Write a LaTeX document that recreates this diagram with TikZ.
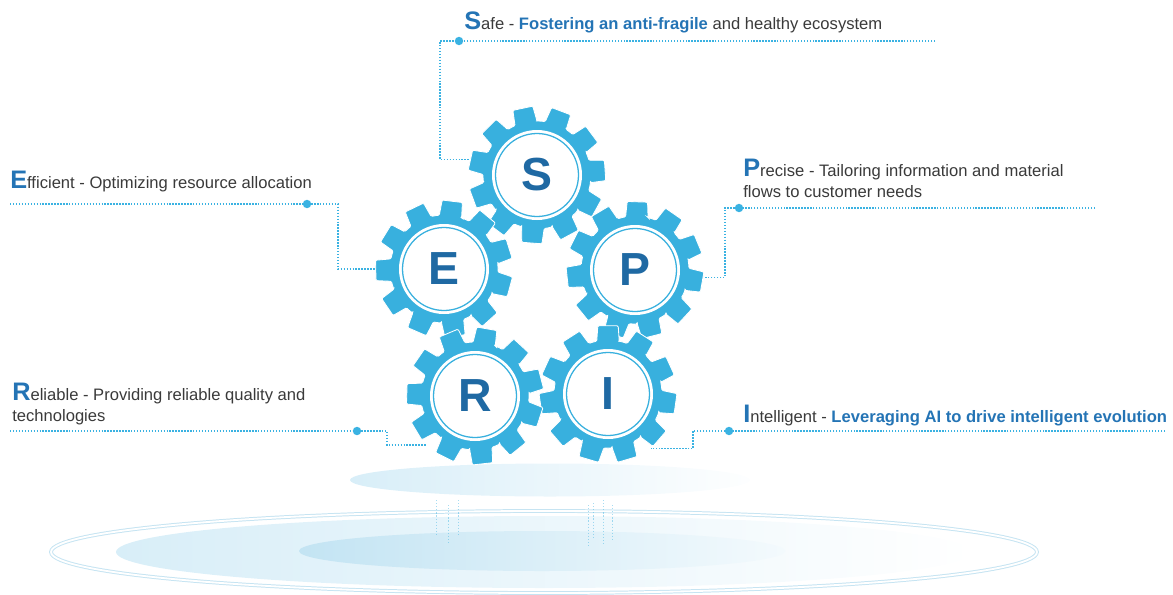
\documentclass[tikz,border=0pt]{standalone}
\usepackage{fontspec}
\setmainfont{Liberation Sans}
\usetikzlibrary{positioning, calc, backgrounds}
\definecolor{gearblue}{HTML}{38B0DE}
\definecolor{lettblue}{HTML}{1F69A3}
\definecolor{leadblue}{HTML}{3AB2E2}
\definecolor{accentblue}{HTML}{2474B5}
\definecolor{textgrey}{HTML}{3A3A3A}
\definecolor{platblue}{HTML}{D8EEF8}
\definecolor{innerblue}{HTML}{C3E4F3}
\definecolor{ringblue}{HTML}{C6E4F2}
\tikzset{
  leader/.style={draw=leadblue, line width=1pt, dash pattern=on 1pt off 1.1pt},
  dotmark/.style={circle, fill=leadblue, inner sep=0pt, minimum size=6pt},
  gearhub/.style={circle, inner sep=0pt, minimum size=3.45cm},
  letter/.style={font=\fontsize{33}{33}\selectfont\bfseries, text=lettblue, inner sep=0pt},
  caption/.style={anchor=base west, align=left, inner sep=0pt, text=textgrey,
                  font=\fontsize{11.8}{14.6}\selectfont},
  pics/gear/.style={code={
    % eleven trapezoid teeth round one body, outlined in white
    \fill[gearblue, draw=white, line width=0.6pt, rounded corners=0.8pt] (#1-12:54)
      \foreach \t [evaluate=\t as \a using #1+\t*32.727] in {0,...,10}{
        -- (\a-12:54) -- (\a-8.5:69) -- (\a+8.5:69) -- (\a+12:54)
        arc[start angle=\a+12, end angle=\a+20.727, radius=54]
      } -- cycle;
    \fill[white] (0,0) circle[radius=45];
    \draw[gearblue, line width=0.9pt] (0,0) circle[radius=41.5];
  }},
}
\newcommand{\initial}[1]{{\fontsize{18}{18}\selectfont\bfseries\color{accentblue}#1}}
\newcommand{\hilite}[1]{{\bfseries\color{accentblue}#1}}

\begin{document}
\begin{tikzpicture}[x=0.025cm, y=0.025cm]
  \useasboundingbox (0,0) rectangle (1173,-594);

  % platform under the gears
  \draw[ringblue, line width=0.7pt, double=white, double distance=1.3pt] (544,-552) ellipse[x radius=493, y radius=41];
  \shade[left color=platblue, right color=white] (544,-552) ellipse[x radius=428, y radius=36];
  \shade[left color=innerblue, right color=platblue!30] (542,-551) ellipse[x radius=243, y radius=20];
  \shade[left color=platblue, right color=white!96!platblue] (550,-480) ellipse[x radius=200, y radius=16.5];
  \foreach \x/\a/\b in {436/500/535, 448/505/545, 458/500/535, 588/505/548, 593/503/540, 603/500/545, 612/505/540}
    \draw[leadblue, opacity=0.45, line width=0.5pt, dash pattern=on 0.8pt off 1.4pt] (\x,-\a) -- (\x,-\b);

  % the five gears
  \foreach \n/\x/\y in {S/537/175, E/444/269, P/635/270, R/475/396, I/608/394}
    \node[gearhub] (g\n) at (\x,-\y) {};
  \foreach \n/\r in {S/102, P/88, E/83, I/90, R/80}{
    \pic at (g\n) {gear=\r};
    \node[letter] (t\n) at (g\n) {\n};
  }

  % captions (base = last line)
  \node[caption] (cS) at (464,-29) {\initial{S}afe - \hilite{Fostering an anti-fragile} and healthy ecosystem};
  \node[caption] (cE) at (10,-188) {\initial{E}fficient - Optimizing resource allocation};
  \node[caption] (cP) at (743,-197.5) {\initial{P}recise - Tailoring information and material\\flows to customer needs};
  \node[caption] (cR) at (12,-421) {\initial{R}eliable - Providing reliable quality and\\technologies};
  \node[caption] (cI) at (743,-422) {\initial{I}ntelligent - \hilite{Leveraging AI to drive intelligent evolution}};

  % dotted leaders, behind the gears
  \coordinate (lS) at (935,-41);   \coordinate (bS) at (440,-41);
  \coordinate (lE) at (10,-204);   \coordinate (bE) at (338,-204);
  \coordinate (lP) at (1095,-208); \coordinate (bP) at (725,-208);
  \coordinate (lR) at (10,-431);   \coordinate (bR) at (387,-431);
  \coordinate (lI) at (1165,-431); \coordinate (bI) at (693,-431);
  \begin{scope}[on background layer]
    \draw[leader] (lS) -- (bS) |- (gS.167);
    \draw[leader] (lE) -- (bE) |- (gE.west);
    \draw[leader] (lP) -- (bP) |- (gP.-6);
    \draw[leader] (lR) -- (bR) |- (gR.south west);
    \draw[leader] (lI) -- (bI) |- (gI.-52);
  \end{scope}
  \node[dotmark] (dS) at (459,-41) {};
  \node[dotmark] (dE) at (307,-204) {};
  \node[dotmark] (dP) at (739,-208) {};
  \node[dotmark] (dR) at (357,-431) {};
  \node[dotmark] (dI) at (729,-431) {};
\end{tikzpicture}
\end{document}
